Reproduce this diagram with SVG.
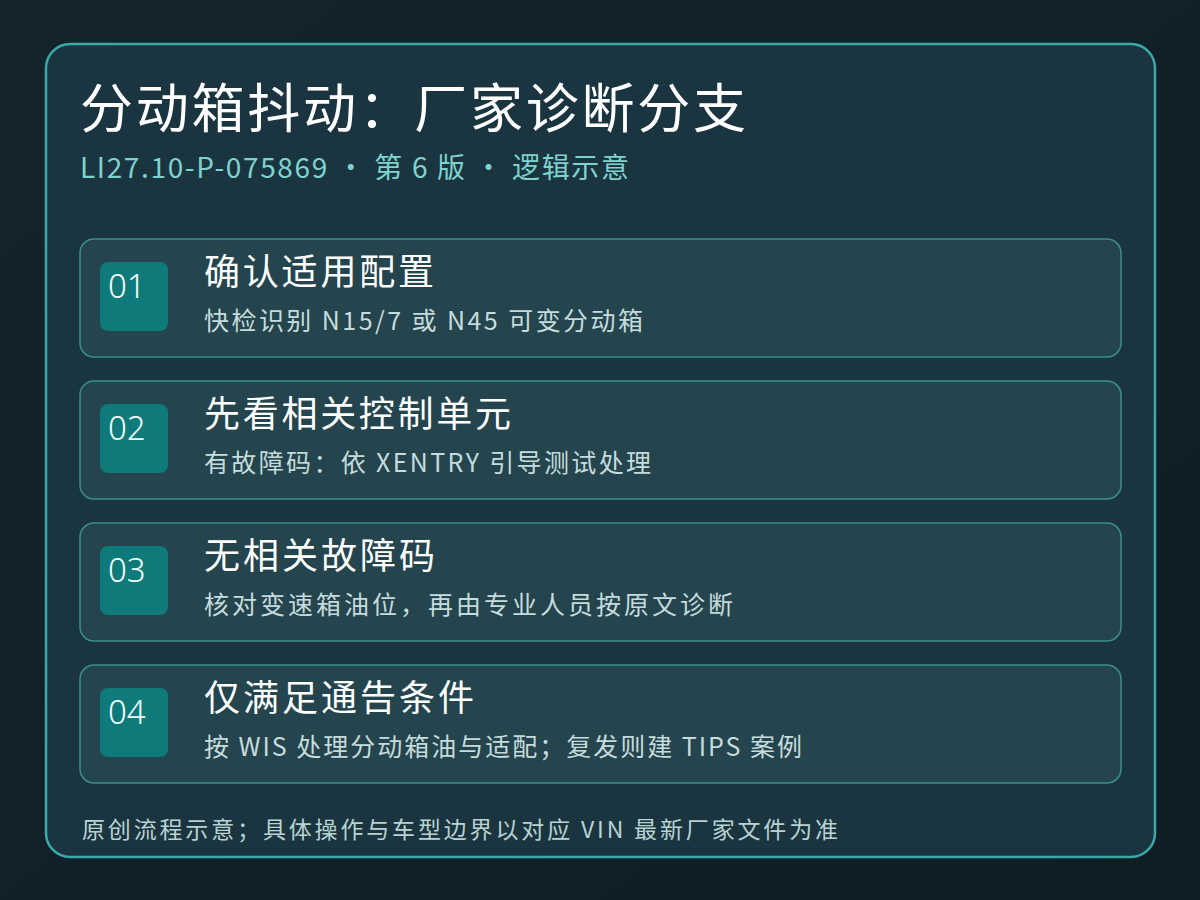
<svg xmlns="http://www.w3.org/2000/svg" width="1200" height="900" viewBox="0 0 1200 900">
<defs>
<linearGradient id="bg" x1="0" y1="0" x2="1" y2="1"><stop offset="0" stop-color="#13242d"/><stop offset="1" stop-color="#0f1d25"/></linearGradient>
<style>
.f{font-family:"Noto Sans CJK SC","Noto Sans",sans-serif}
.card{fill:#24444e;stroke:#3a8e8f;stroke-width:1.5}
.badge{fill:#0e7a7a}
.num{fill:#f2fbfb;font-size:33px;font-weight:300;font-family:"Noto Sans","Open Sans",sans-serif}
.t{fill:#ffffff;font-size:36px;font-weight:400}
.s{fill:#c6dcdc;font-size:25px;font-weight:400}
</style>
</defs>
<rect width="1200" height="900" fill="url(#bg)"/>
<g id="panel">
<rect x="46" y="44" width="1109" height="813" rx="24" fill="#1b3540" stroke="#3aa9a8" stroke-width="2.5"/>
<text class="f" x="80" y="128" font-size="53" fill="#ffffff" font-weight="400" textLength="666" lengthAdjust="spacing">分动箱抖动：厂家诊断分支</text>
<text class="f" x="80" y="178" font-size="28" fill="#7ed3cf" textLength="549" lengthAdjust="spacing">LI27.10-P-075869 ·  第 6 版 ·  逻辑示意</text>
</g>
<g id="connectors"></g>
<g id="step1">
<rect class="card" x="80" y="239" width="1041" height="118" rx="14"/>
<rect class="badge" x="100" y="262" width="68" height="69" rx="8"/>
<text class="num" x="108" y="298">01</text>
<text class="f t" x="204" y="285" textLength="230" lengthAdjust="spacing">确认适用配置</text>
<text class="f s" x="204" y="330" textLength="439" lengthAdjust="spacing">快检识别 N15/7 或 N45 可变分动箱</text>
</g>
<g id="step2">
<rect class="card" x="80" y="381" width="1041" height="118" rx="14"/>
<rect class="badge" x="100" y="404" width="68" height="69" rx="8"/>
<text class="num" x="108" y="440">02</text>
<text class="f t" x="204" y="427" textLength="307" lengthAdjust="spacing">先看相关控制单元</text>
<text class="f s" x="204" y="472" textLength="447" lengthAdjust="spacing">有故障码：依 XENTRY 引导测试处理</text>
</g>
<g id="step3">
<rect class="card" x="80" y="523" width="1041" height="118" rx="14"/>
<rect class="badge" x="100" y="546" width="68" height="69" rx="8"/>
<text class="num" x="108" y="582">03</text>
<text class="f t" x="204" y="569" textLength="231" lengthAdjust="spacing">无相关故障码</text>
<text class="f s" x="204" y="614" textLength="529" lengthAdjust="spacing">核对变速箱油位，再由专业人员按原文诊断</text>
</g>
<g id="step4">
<rect class="card" x="80" y="665" width="1041" height="118" rx="14"/>
<rect class="badge" x="100" y="688" width="68" height="69" rx="8"/>
<text class="num" x="108" y="724">04</text>
<text class="f t" x="204" y="711" textLength="270" lengthAdjust="spacing">仅满足通告条件</text>
<text class="f s" x="204" y="756" textLength="598" lengthAdjust="spacing">按 WIS 处理分动箱油与适配；复发则建 TIPS 案例</text>
</g>
<g id="footer">
<text class="f" x="82" y="838" font-size="23" fill="#b9d3d3" textLength="756" lengthAdjust="spacing">原创流程示意；具体操作与车型边界以对应 VIN 最新厂家文件为准</text>
</g>
</svg>
